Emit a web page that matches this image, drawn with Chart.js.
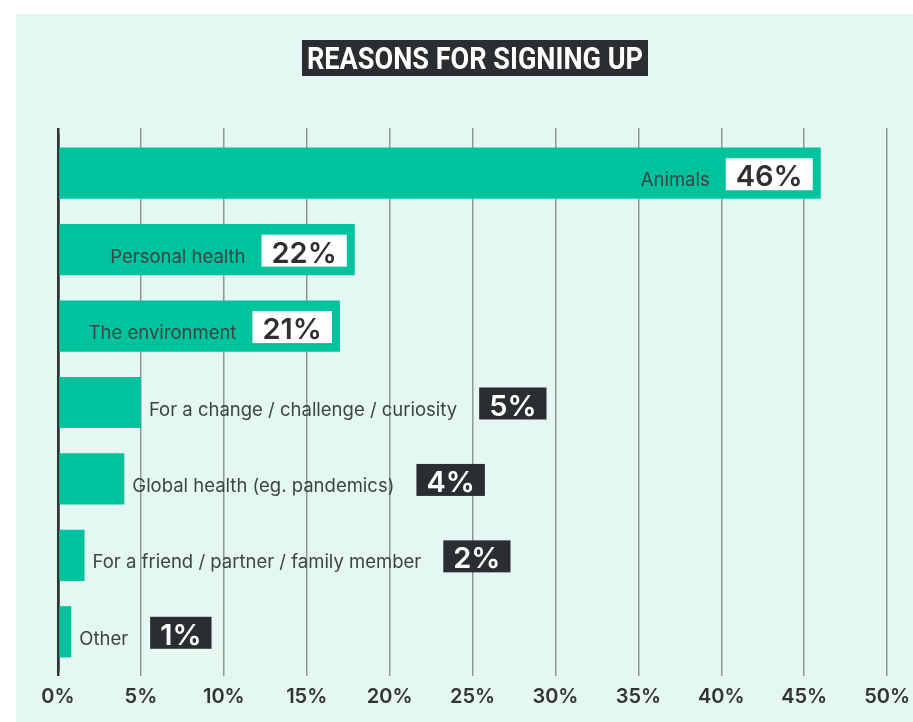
<!DOCTYPE html>
<html>
<head>
<meta charset="utf-8">
<script src="https://cdn.jsdelivr.net/npm/chart.js@4.4.1/dist/chart.umd.min.js"></script>
<style>
  html, body { margin: 0; padding: 0; background: #ffffff; overflow: hidden; }
  #panel { position: absolute; left: 16px; top: 14px; width: 903px; height: 708px; background: #e5f7f3; }
  canvas { display: block; }
</style>
</head>
<body>
<div id="panel"><canvas id="reasonsChart" width="903" height="708"></canvas></div>
<script>
// data
const reasons = [
    'Animals',
    'Personal health',
    'The environment',
    'For a change / challenge / curiosity',
    'Global health (eg. pandemics)',
    'For a friend / partner / family member',
    'Other'
];
const barShares = [46, 17.9, 17, 5, 4, 1.6, 0.8];
const shareLabels = ['46%', '22%', '21%', '5%', '4%', '2%', '1%'];
const xTickLabels = ['0%', '5%', '10%', '15%', '20%', '25%', '30%', '35%', '40%', '45%', '50%'];
const chartTitle = 'REASONS FOR SIGNING UP';

Chart.defaults.font.family = 'Inter';

const nameFont = '400 18.5px Inter';
const pctFont = '600 29px Inter';

const gridColor = ctx => (ctx.tick && ctx.tick.value === 0) ? '#2f3331' : '#8d9995';
const gridWidth = ctx => (ctx.tick && ctx.tick.value === 0) ? 2.5 : 1.5;

// title box (condensed look by squeezing the text horizontally)
const titleBox = {
    id: 'titleBox',
    afterDraw(chart) {
        const ctx = chart.ctx;
        const cx = 459;
        const targetW = 336;
        ctx.save();
        ctx.fillStyle = '#2b2e30';
        ctx.fillRect(cx - targetW / 2 - 5, 26, targetW + 10, 36);
        ctx.font = 'bold 31px Roboto';
        const w = ctx.measureText(chartTitle).width;
        ctx.translate(cx, 55);
        ctx.scale(targetW / w, 1);
        ctx.fillStyle = '#ffffff';
        ctx.textAlign = 'center';
        ctx.textBaseline = 'alphabetic';
        ctx.fillText(chartTitle, 0, 0);
        ctx.restore();
    }
};

// category name + percentage box next to each bar
const barLabels = {
    id: 'barLabels',
    afterDatasetsDraw(chart) {
        const ctx = chart.ctx;
        const meta = chart.getDatasetMeta(0);
        ctx.save();
        meta.data.forEach((bar, i) => {
            const baseline = bar.y + 13;
            ctx.font = nameFont;
            const nameW = ctx.measureText(reasons[i]).width;
            ctx.font = pctFont;
            const pctW = ctx.measureText(shareLabels[i]).width;
            const boxW = pctW + 20;
            const inside = (bar.x - bar.base) > nameW + boxW + 40;
            let nameX, boxX;
            if (inside) {
                boxX = bar.x - 8 - boxW;
                nameX = boxX - 16 - nameW;
            } else {
                nameX = bar.x + 8;
                boxX = nameX + nameW + 22;
            }
            ctx.textBaseline = 'alphabetic';
            ctx.textAlign = 'left';
            ctx.font = nameFont;
            ctx.fillStyle = '#3a4643';
            ctx.fillText(reasons[i], nameX, baseline);

            ctx.fillStyle = inside ? '#ffffff' : '#2b2e30';
            ctx.fillRect(boxX, baseline - 28, boxW, 32);
            ctx.font = pctFont;
            ctx.fillStyle = inside ? '#2e3032' : '#ffffff';
            ctx.fillText(shareLabels[i], boxX + 10, baseline);
        });
        ctx.restore();
    }
};

const reasonsChart = new Chart(document.getElementById('reasonsChart'), {
    type: 'bar',
    data: {
        labels: reasons,
        datasets: [{
            data: barShares,
            backgroundColor: '#00c39e',
            borderWidth: 0,
            barPercentage: 0.67,
            categoryPercentage: 1
        }]
    },
    options: {
        indexAxis: 'y',
        responsive: false,
        animation: false,
        devicePixelRatio: 1,
        layout: {
            padding: { left: 42, right: 27, top: 114, bottom: 4 }
        },
        scales: {
            x: {
                position: 'bottom',
                min: 0,
                max: 50,
                border: { display: false },
                grid: {
                    color: gridColor,
                    lineWidth: gridWidth,
                    drawTicks: true,
                    tickLength: 6
                },
                ticks: {
                    stepSize: 5,
                    padding: 9,
                    color: '#333333',
                    font: { size: 20, weight: '600' },
                    callback: (value, index) => xTickLabels[index]
                }
            },
            xTop: {
                axis: 'x',
                type: 'linear',
                position: 'top',
                display: true,
                min: 0,
                max: 50,
                border: { display: false },
                grid: {
                    color: gridColor,
                    lineWidth: gridWidth,
                    drawOnChartArea: false,
                    drawTicks: true,
                    tickLength: 7
                },
                ticks: { stepSize: 5, display: false }
            },
            y: {
                display: true,
                z: 1,
                grid: { display: false, drawTicks: false },
                border: { display: true, color: '#2f3331', width: 2.5 },
                ticks: { display: false }
            }
        },
        plugins: {
            legend: { display: false },
            tooltip: { enabled: false },
            title: { display: false }
        }
    },
    plugins: [barLabels, titleBox]
});
</script>
</body>
</html>
